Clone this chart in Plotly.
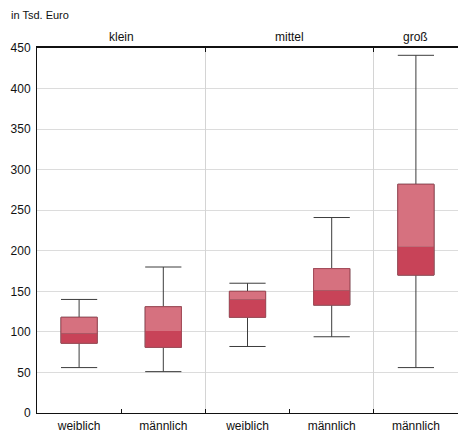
import plotly.graph_objects as go

# Values (in Tsd. Euro)
groups = ["klein", "klein", "mittel", "mittel", "groß"]
labels = ["weiblich", "männlich", "weiblich", "männlich", "männlich"]
lower = [56, 51, 82, 94, 56]
q1 = [86, 81, 118, 133, 170]
median = [98, 101, 140, 151, 205]
q3 = [118, 131, 150, 178, 282]
upper = [140, 180, 160, 241, 441]

pos = list(range(len(labels)))
box_w = 0.43
dark = "#c84358"
light = "#d6717f"
edge = "#a84c5a"

fig = go.Figure()

# whiskers with caps on the base axis; the box body gets covered by the bars
fig.add_trace(go.Box(
    x=pos, q1=q1, median=median, q3=q3,
    lowerfence=lower, upperfence=upper,
    width=box_w, whiskerwidth=1,
    fillcolor="rgba(0,0,0,0)", line=dict(color="#3c3c3c", width=1),
    boxpoints=False, showlegend=False, hoverinfo="skip",
))

# two-tone boxes on the overlaying axis (drawn above): q1->median dark, median->q3 light
fig.add_trace(go.Bar(
    x=pos, y=[m - a for m, a in zip(median, q1)], base=q1, xaxis="x2",
    width=box_w, marker=dict(color=dark, line=dict(width=0)),
    showlegend=False,
))
fig.add_trace(go.Bar(
    x=pos, y=[b - m for b, m in zip(q3, median)], base=median, xaxis="x2",
    width=box_w, marker=dict(color=light, line=dict(width=0)),
    showlegend=False,
))
fig.add_trace(go.Bar(
    x=pos, y=[b - a for a, b in zip(q1, q3)], base=q1, xaxis="x2",
    width=box_w, marker=dict(color="rgba(0,0,0,0)", line=dict(color=edge, width=1)),
    showlegend=False,
))

# group boundaries and group label positions
bounds = [i + 0.5 for i in range(len(groups))]
group_edges = [i + 0.5 for i in range(len(groups)) if i == len(groups) - 1 or groups[i] != groups[i + 1]]
group_names = []
group_centers = []
for g in dict.fromkeys(groups):
    idx = [i for i, n in enumerate(groups) if n == g]
    group_names.append(g)
    group_centers.append(sum(idx) / len(idx))

# invisible helper so the top axis is drawn
fig.add_trace(go.Scatter(x=group_edges, y=[0] * len(group_edges),
                         xaxis="x3", mode="none", showlegend=False, hoverinfo="skip"))

font = "Liberation Sans, Arial, sans-serif"
xr = [-0.5, len(labels) - 0.5]

# page body adds 8px, so the figure is a bit smaller than the window
fig.update_layout(
    width=452, height=428,
    margin=dict(l=29, r=2, t=40, b=23, autoexpand=False),
    plot_bgcolor="white", paper_bgcolor="white",
    font=dict(family=font, size=12, color="#111"),
    barmode="overlay", showlegend=False,
    xaxis=dict(range=xr, tickvals=pos, ticktext=labels, ticks="", automargin=False,
               showgrid=False, showline=True, linecolor="#111", linewidth=1,
               zeroline=False, tickfont=dict(size=12), ticklabelstandoff=2),
    xaxis2=dict(range=xr, overlaying="x", side="bottom", tickvals=bounds, automargin=False,
                ticks="inside", ticklen=4, tickcolor="#111", showticklabels=False,
                showgrid=False, showline=False, zeroline=False),
    xaxis3=dict(range=xr, overlaying="x", side="top", tickvals=group_edges, automargin=False,
                ticks="inside", ticklen=4, tickcolor="#111", showticklabels=False,
                showgrid=True, gridcolor="#d4d4d4", gridwidth=1,
                showline=True, linecolor="#111", linewidth=1.5, zeroline=False),
    yaxis=dict(range=[0, 450], dtick=50, showgrid=True, gridcolor="#dcdcdc", automargin=False,
               gridwidth=1, showline=True, linecolor="#111", linewidth=1,
               zeroline=False, ticks="", tickfont=dict(size=12), ticklabelstandoff=3),
)

for name, cx in zip(group_names, group_centers):
    fig.add_annotation(x=cx, y=1, xref="x", yref="paper", yanchor="bottom",
                       yshift=2, text=name, showarrow=False, font=dict(size=12))

fig.add_annotation(x=0, y=1, xref="paper", yref="paper", xanchor="left", yanchor="bottom",
                   xshift=-28, yshift=25, text="in Tsd. Euro", showarrow=False,
                   font=dict(size=11))

fig.write_html("out.html")
